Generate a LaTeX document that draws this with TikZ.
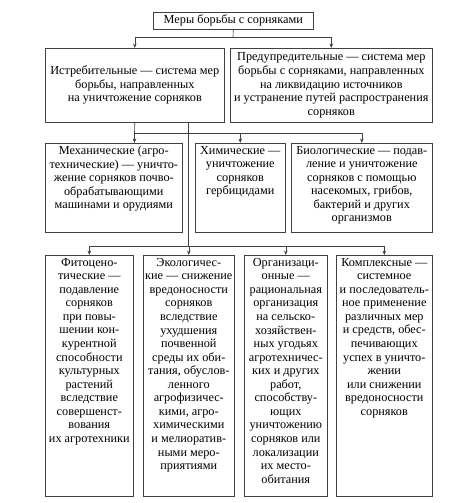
\documentclass[tikz,border=0pt]{standalone}
\usepackage{fontspec}
\setmainfont{Liberation Serif}
\usetikzlibrary{arrows.meta}
\begin{document}
\begin{tikzpicture}[x=1bp,y=-1bp,
  box/.style={draw=black!75, line width=0.6pt, inner sep=0pt, anchor=north west},
  txt/.style={align=center, inner sep=0pt, font=\fontsize{12.3}{13.6}\selectfont},
  ln/.style={draw=black!75, line width=0.6pt},
  arr/.style={ln, -{Stealth[length=4.5pt,width=3.5pt]}}]
\useasboundingbox (0,0) rectangle (473,503);
% boxes
\node[box, minimum width=160bp, minimum height=17bp] (top) at (153,12) {};
\node[box, minimum width=179bp, minimum height=74bp] (L1) at (45,48) {};
\node[box, minimum width=202bp, minimum height=74bp] (R1) at (230,48) {};
\node[box, minimum width=137bp, minimum height=89bp] (M1) at (45,143) {};
\node[box, minimum width=90bp, minimum height=89bp] (M2) at (195,143) {};
\node[box, minimum width=141bp, minimum height=89bp] (M3) at (291,143) {};
\node[box, minimum width=88bp, minimum height=241bp] (B1) at (45,255) {};
\node[box, minimum width=91bp, minimum height=241bp] (B2) at (143,255) {};
\node[box, minimum width=83bp, minimum height=241bp] (B3) at (244,255) {};
\node[box, minimum width=96bp, minimum height=241bp] (B4) at (336,255) {};
% texts
\node[txt] (topt) at (top.center) {Меры борьбы с сорняками};
\node[txt] (L1t) at (L1.center) {Истребительные — система мер\\борьбы, направленных\\на уничтожение сорняков};
\node[txt] (R1t) at (R1.center) {Предупредительные — система мер\\борьбы с сорняками, направленных\\на ликвидацию источников\\и устранение путей распространения\\сорняков};
\node[txt, anchor=north] (M1t) at ([yshift=-3bp]M1.north) {Механические (агро-\\технические) — уничто-\\жение сорняков почво-\\обрабатывающими\\машинами и орудиями};
\node[txt, anchor=north] (M2t) at ([yshift=-3bp]M2.north) {Химические —\\уничтожение\\сорняков\\гербицидами};
\node[txt, anchor=north] (M3t) at ([yshift=-3bp]M3.north) {Биологические — подав-\\ление и уничтожение\\сорняков с помощью\\насекомых, грибов,\\бактерий и других\\организмов};
\node[txt, anchor=north] (B1t) at ([yshift=-3bp]B1.north) {Фитоцено-\\тические —\\подавление\\сорняков\\при повы-\\шении кон-\\курентной\\способности\\культурных\\растений\\вследствие\\совершенст-\\вования\\их агротехники};
\node[txt, anchor=north] (B2t) at ([yshift=-3bp]B2.north) {Экологичес-\\кие — снижение\\вредоносности\\сорняков\\вследствие\\ухудшения\\почвенной\\среды их оби-\\тания, обуслов-\\ленного\\агрофизичес-\\кими, агро-\\химическими\\и мелиоратив-\\ными меро-\\приятиями};
\node[txt, anchor=north] (B3t) at ([yshift=-3bp]B3.north) {Организаци-\\онные —\\рациональная\\организация\\на сельско-\\хозяйствен-\\ных угодьях\\агротехничес-\\ких и других\\работ,\\способству-\\ющих\\уничтожению\\сорняков или\\локализации\\их место-\\обитания};
\node[txt, anchor=north] (B4t) at ([yshift=-3bp]B4.north) {Комплексные —\\системное\\и последователь-\\ное применение\\различных мер\\и средств, обес-\\печивающих\\успех в уничто-\\жении\\или снижении\\вредоносности\\сорняков};
% connectors
\coordinate (j1) at (233,37);
\coordinate (j2) at (134.5,133);
\coordinate (j3) at (188,246);
\draw[ln] (top.south) -- (j1);
\draw[arr] (j1) -| (L1.north);
\draw[arr] (j1) -| (R1.north);
\draw[ln] (L1.south) -- (j2);
\draw[arr] (j2) -- (j2 |- M1.north);
\draw[arr] (j2) -| (M2.north);
\draw[arr] (j2) -| (M3.north);
\draw[ln] (L1.south -| j3) -- (j3);
\draw[arr] (j3) -| (B1.north);
\draw[arr] (j3) -| (B2.north);
\draw[arr] (j3) -| (B3.north);
\draw[arr] (j3) -| (B4.north);
\end{tikzpicture}
\end{document}
